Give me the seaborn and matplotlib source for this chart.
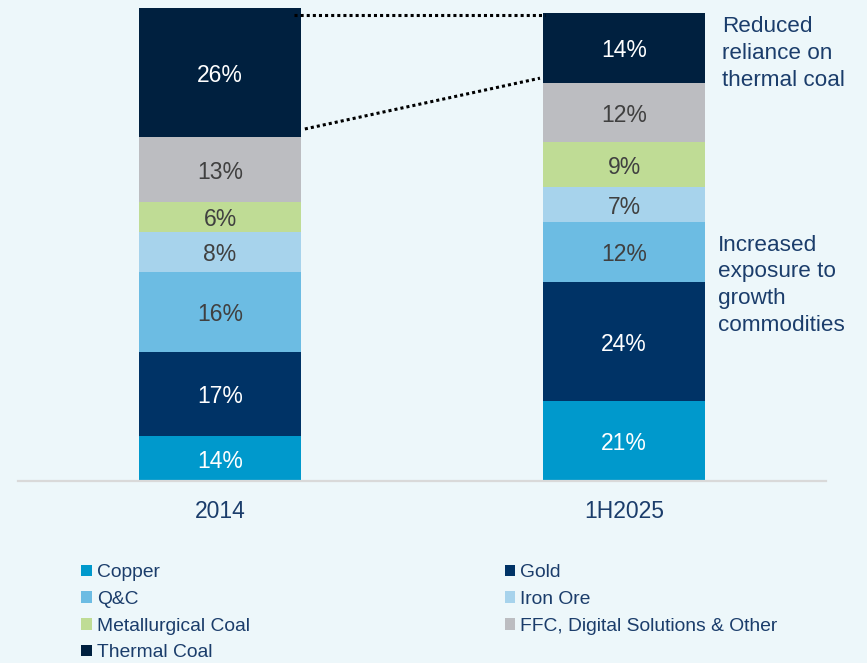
import numpy as np
import pandas as pd
import matplotlib
matplotlib.use("Agg")
import matplotlib.pyplot as plt
from matplotlib.patches import Patch
import seaborn as sns

# Revenue mix by commodity, share of total (%)
periods = ["2014", "1H2025"]
segments = ["Copper", "Gold", "Q&C", "Iron Ore", "Metallurgical Coal",
            "FFC, Digital Solutions & Other", "Thermal Coal"]
share_2014 = [14, 17, 16, 8, 6, 13, 26]
share_1h2025 = [21, 24, 12, 7, 9, 12, 14]

seg_colors = ["#0099CC", "#003366", "#6CBCE3", "#A7D3EC", "#BFDC95",
              "#BCBDC1", "#00203F"]
text_colors = ["white", "white", "#404040", "#404040", "#404040",
               "#404040", "white"]

BG = "#EDF7FA"
NAVY_TXT = "#1B3D6B"

sns.set_theme(style="white")
plt.rcParams["font.family"] = ["Liberation Sans", "DejaVu Sans"]

# long table with stacked bottoms/tops
rows = []
for period, vals in zip(periods, [share_2014, share_1h2025]):
    cum = np.cumsum(vals)
    for seg, v, top in zip(segments, vals, cum):
        rows.append({"period": period, "segment": seg, "value": v,
                     "bottom": top - v, "top": top})
df = pd.DataFrame(rows)

fig = plt.figure(figsize=(8.67, 6.63), dpi=100, facecolor=BG)
ax = fig.add_axes([0.0208, 0.2745, 0.9319, 0.7255])
ax.set_facecolor(BG)

Y_MIN, Y_MAX = 5, 101.6
BAR_W = 0.4

# draw cumulative totals from the top segment down so each layer sits on the one below
for i in reversed(range(len(segments))):
    sub = df[df["segment"] == segments[i]]
    sns.barplot(data=sub, x="period", y="top", order=periods, color=seg_colors[i],
                saturation=1, width=BAR_W, errorbar=None, ax=ax,
                edgecolor="none", linewidth=0)

# value labels centred on the visible part of each segment
for xi, period in enumerate(periods):
    sub = df[df["period"] == period]
    for j, r in enumerate(sub.itertuples()):
        lo = max(r.bottom, Y_MIN)
        ax.text(xi, (lo + r.top) / 2, f"{r.value}%", ha="center", va="center_baseline",
                fontsize=16.5, color=text_colors[j])

# connectors highlighting the thermal coal reduction
th_2014_bottom = sum(share_2014[:-1])
th_2025_bottom = sum(share_1h2025[:-1])
total_2025 = sum(share_1h2025)
dot = dict(color="black", lw=2.2, linestyle=(0, (1, 1)), solid_capstyle="butt")
ax.plot([BAR_W / 2 - 0.017, 1 - BAR_W / 2 + 0.005], [total_2025 - 0.5, total_2025 - 0.5], **dot)
ax.plot([BAR_W / 2 + 0.01, 1 - BAR_W / 2 - 0.008],
        [th_2014_bottom + 1.7, th_2025_bottom + 0.9], **dot)

ax.set_ylim(Y_MIN, Y_MAX)
ax.set_xlim(-0.5, 1.5)
ax.set_xlabel("")
ax.set_ylabel("")
ax.set_yticks([])
ax.tick_params(axis="x", length=0, pad=14, labelsize=16.5, labelcolor=NAVY_TXT)
for s in ["top", "left", "right"]:
    ax.spines[s].set_visible(False)
ax.spines["bottom"].set_color("#D9D9D9")
ax.spines["bottom"].set_linewidth(1.6)

fig.text(0.8328, 0.9752, "Reduced\nreliance on\nthermal coal", ha="left", va="top",
         fontsize=16.2, color=NAVY_TXT, linespacing=1.36)
fig.text(0.8282, 0.6463, "Increased\nexposure to\ngrowth\ncommodities", ha="left", va="top",
         fontsize=16.2, color=NAVY_TXT, linespacing=1.36)

# legend: two columns, left column Copper/Q&C/Met Coal/Thermal, right column Gold/Iron Ore/FFC
order = [0, 2, 4, 6, 1, 3, 5]
handles = [Patch(facecolor=seg_colors[k], edgecolor="none", label=segments[k]) for k in order]
fig.legend(handles=handles, ncol=2, loc="upper left", bbox_to_anchor=(0.094, 0.149),
           frameon=False, fontsize=13.9, labelcolor=NAVY_TXT, handlelength=0.55,
           handleheight=0.55, handletextpad=0.25, labelspacing=0.5, columnspacing=13.2,
           borderpad=0, borderaxespad=0)

fig.savefig("out.png", dpi=100, facecolor=BG)
